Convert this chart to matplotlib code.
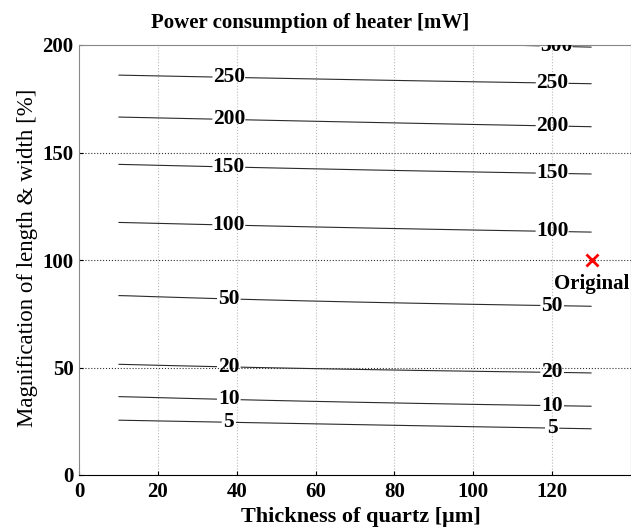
import numpy as np
from matplotlib import pyplot as plt

# %% datos
levels = [5, 10, 20, 50, 100, 150, 200, 250, 300]
thick_ends = [10, 130]
# magnificacion de cada curva en thickness = 10 y thickness = 130
mag_left = [25.5, 36.5, 51.5, 83.5, 117.5, 144.5, 166.5, 186.0, 205.0]
mag_right = [21.5, 32.0, 47.5, 78.5, 113.0, 140.0, 162.0, 182.0, 199.0]

orig_thick = 130
orig_mag = 100

x_ticks = [0, 20, 40, 60, 80, 100, 120]
y_ticks = [0, 50, 100, 150, 200]

# %% grilla para el contour (dos columnas, el contour une los extremos)
mag_grid = np.linspace(10, 200, 400)
Z = np.zeros((len(mag_grid), 2))
for j, ys in enumerate([mag_left, mag_right]):
    # extremos extrapolados para que no quede plano fuera del rango
    ys_ext = [2 * ys[0] - ys[1]] + list(ys) + [2 * ys[-1] - ys[-2]]
    lv_ext = [0] + list(levels) + [2 * levels[-1] - levels[-2]]
    Z[:, j] = np.interp(mag_grid, ys_ext, lv_ext)
X, Y = np.meshgrid(thick_ends, mag_grid)

plt.rcParams['font.family'] = ['Liberation Serif', 'DejaVu Serif']
plt.rcParams['font.weight'] = 'bold'
plt.rcParams['axes.titleweight'] = 'bold'
plt.rcParams['font.size'] = 15

fig = plt.figure(figsize=(6.31, 5.31), dpi=100)
ax = fig.add_axes([79 / 631, 1 - 475 / 531, 1 - 79 / 631, (475 - 45) / 531])

cs = ax.contour(X, Y, Z, levels=levels, colors='#2a2a2a', linewidths=0.8)

# posiciones de las etiquetas (izquierda x=38, derecha x=120)
pos = []
for i, lv in enumerate(levels):
    yl = mag_left[i] + (mag_right[i] - mag_left[i]) * 28 / 120
    yr = mag_left[i] + (mag_right[i] - mag_left[i]) * 110 / 120
    if lv != 300:
        pos.append((38, yl))
        pos.append((120, yr))
    else:
        pos.append((121, 199.6))
lbls = ax.clabel(cs, manual=pos, inline=True, inline_spacing=3, fmt='%d',
                 fontsize=15.5, colors='black')
for t in lbls:
    t.set_rotation(0)
    t.set_clip_on(True)
    t.set_fontweight('bold')

ax.plot(orig_thick, orig_mag, 'x', color='red', markersize=8, mew=2)
ax.text(orig_thick, 89, 'Original', ha='center', va='center', fontsize=15)

ax.set_xlim(0, 140)
ax.set_ylim(0, 200)
ax.set_xticks(x_ticks)
ax.set_yticks(y_ticks)
ax.tick_params(direction='in', length=3, labelsize=15)
ax.tick_params(axis='x', pad=5)
ax.tick_params(axis='y', pad=4)

for v in x_ticks[1:]:
    ax.axvline(v, color='#bbbbbb', linestyle=':', linewidth=0.8, zorder=0)
for v in y_ticks[1:-1]:
    ax.axhline(v, color='#333333', linestyle=':', linewidth=0.8, zorder=0)

for s in ['top', 'right', 'left']:
    ax.spines[s].set_color('#888888')
ax.spines['bottom'].set_color('black')

ax.set_title('Power consumption of heater [mW]', fontsize=15, x=0.418, pad=12)
ax.set_xlabel('Thickness of quartz [μm]', fontsize=16, fontweight='bold')
ax.xaxis.set_label_coords(0.511, -0.075)
ax.set_ylabel('Magnification of length & width [%]', fontsize=16.5,
              fontweight='normal')
ax.yaxis.set_label_coords(-0.075, 0.505)

plt.savefig('out.png', dpi=100)
